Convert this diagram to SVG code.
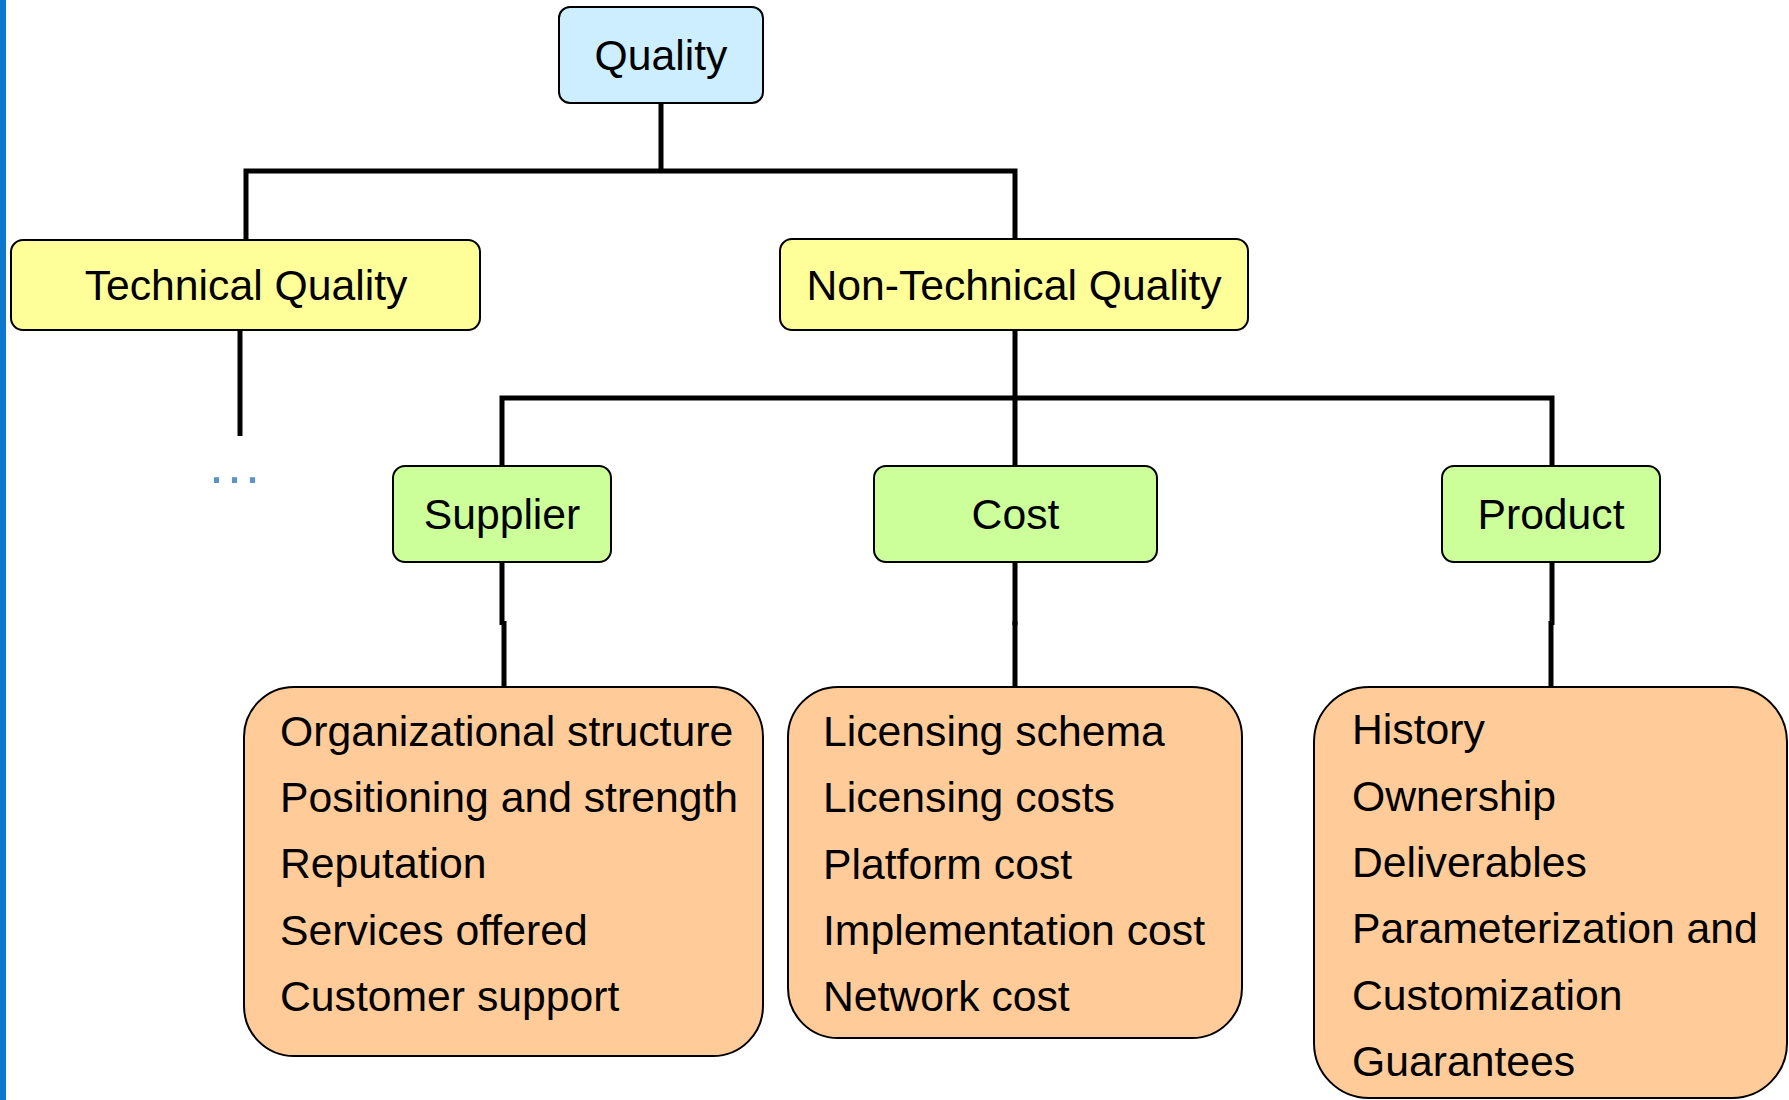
<svg xmlns="http://www.w3.org/2000/svg" width="1789" height="1100" viewBox="0 0 1789 1100">
<style>
.box{stroke:#000;stroke-width:2}
.q{fill:#CCEEFF}
.y{fill:#FFFF99}
.g{fill:#CCFF99}
.o{fill:#FFCC99}
.lbl{font-family:"Liberation Sans",Arial,sans-serif;font-size:42.7px;fill:#000;text-anchor:middle}
.item{font-family:"Liberation Sans",Arial,sans-serif;font-size:42.7px;fill:#000}
.conn{fill:none;stroke:#000;stroke-width:5}
</style>
<rect x="0" y="0" width="1789" height="1100" fill="#fff"/>
<rect x="0" y="0" width="6" height="1100" fill="#0B78CE"/>
<g id="connectors">
<path class="conn" d="M661,103 V171"/>
<path class="conn" d="M246,240 V171 H1015 V239"/>
<path class="conn" d="M240,330 V436"/>
<path class="conn" d="M1015,330 V466"/>
<path class="conn" d="M502,466 V398 H1552 V466"/>
<path class="conn" d="M502,562 V625"/>
<path class="conn" d="M504,621 V687"/>
<path class="conn" d="M1015,562 V625"/>
<path class="conn" d="M1015,621 V687"/>
<path class="conn" d="M1552,562 V625"/>
<path class="conn" d="M1551,621 V687"/>
</g>
<g id="quality">
<rect class="box q" x="559" y="7" width="204" height="96" rx="11"/>
<text class="lbl" x="661" y="70">Quality</text>
</g>
<g id="technical-quality">
<rect class="box y" x="11" y="240" width="469" height="90" rx="12"/>
<text class="lbl" x="246" y="300">Technical Quality</text>
</g>
<g id="technical-more">
<text x="209" y="483" font-family="Liberation Sans,Arial,sans-serif" font-size="54" letter-spacing="3" fill="#5F93C6">...</text>
</g>
<g id="non-technical-quality">
<rect class="box y" x="780" y="239" width="468" height="91" rx="12"/>
<text class="lbl" x="1014" y="300">Non-Technical Quality</text>
</g>
<g id="supplier">
<rect class="box g" x="393" y="466" width="218" height="96" rx="12"/>
<text class="lbl" x="502" y="529">Supplier</text>
</g>
<g id="cost">
<rect class="box g" x="874" y="466" width="283" height="96" rx="12"/>
<text class="lbl" x="1015.5" y="529">Cost</text>
</g>
<g id="product">
<rect class="box g" x="1442" y="466" width="218" height="96" rx="12"/>
<text class="lbl" x="1551" y="529">Product</text>
</g>
<g id="supplier-items">
<rect class="box o" x="244" y="687" width="519" height="369" rx="50"/>
<text class="item" x="280" y="746">Organizational structure</text>
<text class="item" x="280" y="812">Positioning and strength</text>
<text class="item" x="280" y="878">Reputation</text>
<text class="item" x="280" y="945">Services offered</text>
<text class="item" x="280" y="1011">Customer support</text>
</g>
<g id="cost-items">
<rect class="box o" x="788" y="687" width="454" height="351" rx="50"/>
<text class="item" x="823" y="746">Licensing schema</text>
<text class="item" x="823" y="812">Licensing costs</text>
<text class="item" x="823" y="879">Platform cost</text>
<text class="item" x="823" y="945">Implementation cost</text>
<text class="item" x="823" y="1011">Network cost</text>
</g>
<g id="product-items">
<rect class="box o" x="1314" y="687" width="473" height="411" rx="55"/>
<text class="item" x="1352" y="744">History</text>
<text class="item" x="1352" y="811">Ownership</text>
<text class="item" x="1352" y="877">Deliverables</text>
<text class="item" x="1352" y="943">Parameterization and</text>
<text class="item" x="1352" y="1010">Customization</text>
<text class="item" x="1352" y="1076">Guarantees</text>
</g>
</svg>
